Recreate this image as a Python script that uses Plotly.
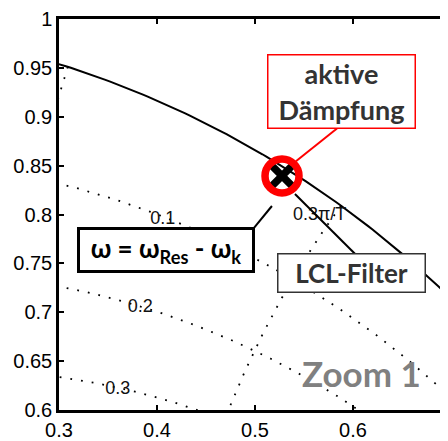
import numpy as np
import plotly.graph_objects as go

# ---- data ----
damping_ratios = [0.1, 0.2, 0.3, 0.4, 0.5, 0.6, 0.7, 0.8, 0.9]      # zgrid damping lines
natural_freqs = [0.1, 0.2, 0.3, 0.4, 0.5, 0.6, 0.7, 0.8, 0.9, 1.0]   # zgrid ωn·T / π
zeta_labels = ["0.1", "0.2", "0.3"]
zeta_label_x = [0.406, 0.383, 0.360]
zeta_label_y = [0.795, 0.705, 0.621]
freq_label = "0.3π/T"
freq_label_x = [0.566]
freq_label_y = [0.7985]
pole_re = [0.5276]
pole_im = [0.8395]
x_ticks = [0.3, 0.4, 0.5, 0.6]
x_tick_text = ["0.3", "0.4", "0.5", "0.6"]
y_ticks = [0.6, 0.65, 0.7, 0.75, 0.8, 0.85, 0.9, 0.95, 1.0]
y_tick_text = ["0.6", "0.65", "0.7", "0.75", "0.8", "0.85", "0.9", "0.95", "1"]

fig = go.Figure()

dot_line = dict(color="black", width=1.8, dash="1.8px,9px")

# damping ratio curves
theta = np.linspace(0, np.pi, 600)
for z in damping_ratios:
    r = np.exp(-z * theta / np.sqrt(1 - z * z))
    fig.add_trace(go.Scatter(x=r * np.cos(theta), y=r * np.sin(theta), mode="lines",
                             line=dot_line, hoverinfo="skip", showlegend=False))
# natural frequency curves
zz = np.linspace(0, 1, 600)
for f in natural_freqs:
    w = f * np.pi
    r = np.exp(-zz * w)
    a = w * np.sqrt(1 - zz ** 2)
    fig.add_trace(go.Scatter(x=r * np.cos(a), y=r * np.sin(a), mode="lines",
                             line=dot_line, hoverinfo="skip", showlegend=False))

# unit circle
fig.add_trace(go.Scatter(x=np.cos(theta), y=np.sin(theta), mode="lines",
                         line=dict(color="black", width=2), hoverinfo="skip", showlegend=False))

# pole (x) and highlight ring
fig.add_trace(go.Scatter(x=pole_re, y=pole_im, mode="markers",
                         marker=dict(symbol="x-thin-open", size=26, color="black",
                                     line=dict(color="black", width=7.5)),
                         showlegend=False))
fig.add_trace(go.Scatter(x=pole_re, y=pole_im, mode="markers",
                         marker=dict(symbol="circle-open", size=34, color="red",
                                     line=dict(color="red", width=7.5)),
                         showlegend=False))

# grid labels
lab_font = dict(family="Liberation Sans, Arial", size=18, color="#111111")
fig.add_trace(go.Scatter(x=zeta_label_x + freq_label_x, y=zeta_label_y + freq_label_y,
                         mode="text", text=zeta_labels + [freq_label],
                         textfont=lab_font, showlegend=False, hoverinfo="skip", cliponaxis=False))

# callout lines
fig.add_shape(type="line", x0=0.5418, y0=0.8545, x1=0.5837, y1=0.888,
              line=dict(color="red", width=2))
fig.add_shape(type="line", x0=0.499, y0=0.7863, x1=0.5173, y1=0.8087,
              line=dict(color="black", width=2))
fig.add_shape(type="line", x0=0.5408, y0=0.8209, x1=0.602, y1=0.7598,
              line=dict(color="black", width=2))

box_font = "Lato, Open Sans, sans-serif"
fig.add_annotation(x=0.5878, y=0.9257, text="aktive<br>Dämpfung", showarrow=False,
                   font=dict(family=box_font, size=27, color="#333333", weight="bold"),
                   bgcolor="white", bordercolor="red", borderwidth=1.5, borderpad=0,
                   width=146, height=72)
fig.add_annotation(x=0.599, y=0.740, text="LCL-Filter", showarrow=False,
                   font=dict(family=box_font, size=26, color="#333333", weight="bold"),
                   bgcolor="white", bordercolor="#333333", borderwidth=1.5, borderpad=0,
                   width=146, height=37)
fig.add_annotation(x=0.4087, y=0.7634, text="ω = ω<sub>Res</sub> - ω<sub>k</sub>", showarrow=False,
                   font=dict(family=box_font, size=26, color="black", weight="bold"),
                   bgcolor="white", bordercolor="black", borderwidth=3, borderpad=0,
                   width=172, height=40)
fig.add_annotation(x=0.609, y=0.6377, text="Zoom 1", showarrow=False,
                   font=dict(family=box_font, size=35, color="#808080", weight="bold"))

tick_font = dict(family="Liberation Sans, Arial", size=20, color="black")
fig.update_xaxes(range=[0.3, 0.697], tickvals=x_ticks, ticktext=x_tick_text,
                 ticks="inside", ticklen=5, tickwidth=1.5, tickcolor="black",
                 showline=True, linewidth=2.5, linecolor="black", mirror="ticks",
                 showgrid=False, zeroline=False, tickfont=tick_font,
                 ticklabeloverflow="allow")
fig.update_yaxes(range=[0.6, 1.0], tickvals=y_ticks, ticktext=y_tick_text,
                 ticks="inside", ticklen=5, tickwidth=1.5, tickcolor="black",
                 showline=True, linewidth=2.5, linecolor="black", mirror=False,
                 showgrid=False, zeroline=False, tickfont=tick_font,
                 ticklabeloverflow="allow")
# the page body adds an 8px offset, so the figure is 8px smaller with 8px less left/top margin
fig.update_layout(width=440, height=433, margin=dict(l=51, r=0, t=9, b=31),
                  plot_bgcolor="white", paper_bgcolor="white", showlegend=False)

fig.write_html("out.html")
